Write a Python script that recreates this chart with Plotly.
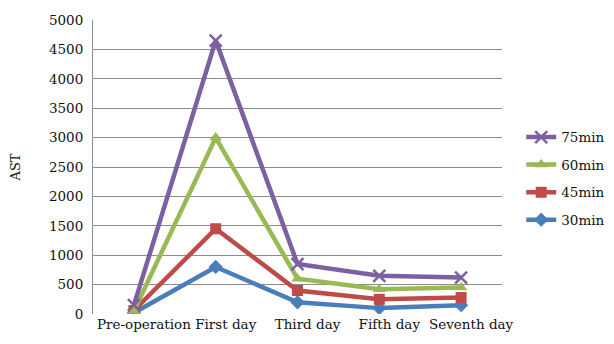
import plotly.graph_objects as go

categories = ["Pre-operation", "First day", "Third day", "Fifth day", "Seventh day"]
series_names = ["30min", "45min", "60min", "75min"]
v30 = [20, 800, 200, 100, 150]
v45 = [60, 1450, 400, 250, 280]
v60 = [50, 3000, 600, 420, 450]
v75 = [150, 4650, 850, 650, 620]
y_ticks = [0, 500, 1000, 1500, 2000, 2500, 3000, 3500, 4000, 4500, 5000]

values = [v30, v45, v60, v75]
colors = ["#4A7EBB", "#BE4B48", "#98B954", "#7D60A0"]
symbols = ["diamond", "square", "triangle-up", "x-thin-open"]

fig = go.Figure()
for i, (name, vals, col, sym) in enumerate(zip(series_names, values, colors, symbols)):
    marker = dict(symbol=sym, size=11, color=col)
    if sym == "x-thin-open":
        marker = dict(symbol=sym, size=12, color=col, line=dict(width=2.5, color=col))
    fig.add_trace(go.Scatter(
        x=categories, y=vals, name=name, mode="lines+markers", legendgroup=name,
        legendrank=1000 - i,
        line=dict(color=col, width=4.5), marker=marker,
    ))

font = "DejaVu Serif"
fig.update_layout(
    width=614, height=344,
    margin=dict(l=85, r=106, t=12, b=38),
    paper_bgcolor="white", plot_bgcolor="white",
    font=dict(family=font, size=13, color="#111"),
    showlegend=True,
    legend=dict(x=1.047, y=0.46, xanchor="left", yanchor="middle",
                traceorder="grouped", font=dict(family=font, size=13.5),
                itemwidth=30, tracegroupgap=7),
    xaxis=dict(showgrid=False, showline=False, ticks="", tickfont=dict(size=13.5),
               range=[-0.5, 4.5], automargin=False, ticklabelshift=10),
    yaxis=dict(range=[0, 5000], tickvals=y_ticks, showgrid=True,
               gridcolor="#8C8C8C", gridwidth=1, showline=True, linecolor="#8C8C8C",
               linewidth=1, ticks="", tickfont=dict(size=13.5), zeroline=False,
               ticklabelstandoff=6, automargin=False,
               title=dict(text="AST", font=dict(size=13), standoff=27)),
)
fig.write_html("out.html")
